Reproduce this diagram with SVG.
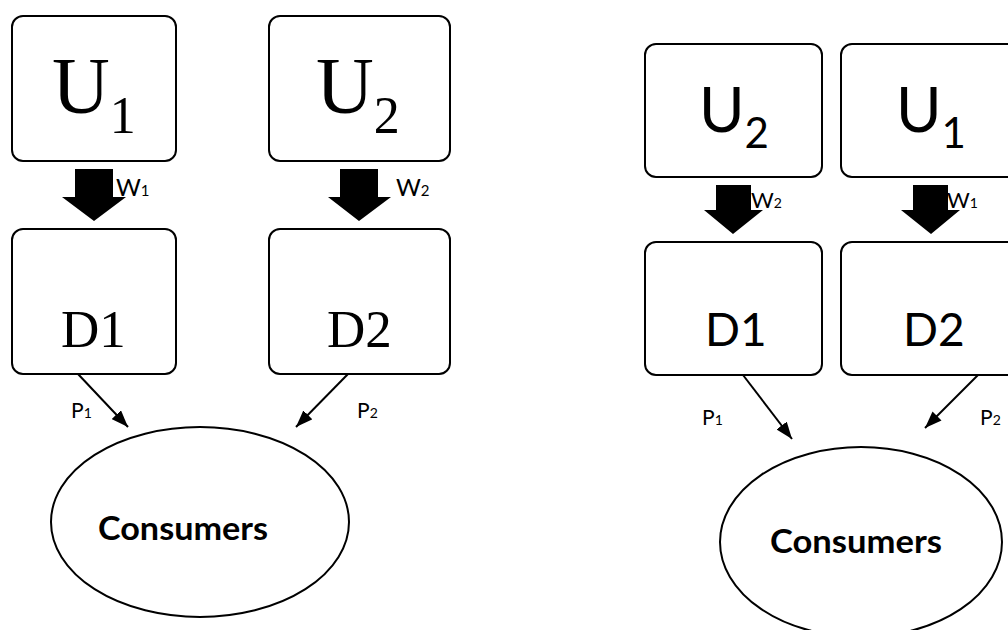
<svg xmlns="http://www.w3.org/2000/svg" width="1008" height="630" viewBox="0 0 1008 630">
<defs>
<style>
.box{fill:#fff;stroke:#000;stroke-width:2}
.ell{fill:#fff;stroke:#000;stroke-width:2}
.blk{fill:#000}
.ln{stroke:#000;stroke-width:2;fill:none;marker-end:url(#ah)}
.serif{font-family:"Liberation Serif","Times New Roman",serif;fill:#000}
.sans{font-family:Lato,"Liberation Sans",sans-serif;fill:#000}
.bold{font-weight:bold}
</style>
<marker id="ah" viewBox="0 0 16 12" refX="16" refY="6" markerWidth="17" markerHeight="13" markerUnits="userSpaceOnUse" orient="auto">
<path d="M0,0 L16,6 L0,12 Z" fill="#000"/>
</marker>
</defs>
<rect width="1008" height="630" fill="#fff"/>

<!-- Left panel -->
<g id="L_U1"><rect class="box" x="12" y="16" width="164" height="145" rx="11"/>
<text class="serif" x="52" y="113" font-size="80">U<tspan font-size="52" dy="20">1</tspan></text></g>
<g id="L_U2"><rect class="box" x="269" y="16" width="181" height="145" rx="11"/>
<text class="serif" x="316" y="113" font-size="80">U<tspan font-size="52" dy="20">2</tspan></text></g>
<g id="L_D1"><rect class="box" x="12" y="229" width="164" height="145" rx="11"/>
<text class="serif" x="61" y="347" font-size="53">D1</text></g>
<g id="L_D2"><rect class="box" x="269" y="229" width="181" height="145" rx="11"/>
<text class="serif" x="327" y="347" font-size="53">D2</text></g>
<g id="L_C"><ellipse class="ell" cx="200" cy="522" rx="149" ry="95"/>
<text class="sans bold" x="98" y="540" font-size="32" textLength="170" lengthAdjust="spacingAndGlyphs">Consumers</text></g>

<!-- Right panel -->
<g id="R_U2"><rect class="box" x="645" y="44" width="177" height="133" rx="11"/>
<text class="sans" x="699" y="132" font-size="62">U<tspan font-size="42" dy="16">2</tspan></text></g>
<g id="R_U1"><rect class="box" x="841" y="44" width="177" height="133" rx="11"/>
<text class="sans" x="896" y="132" font-size="62">U<tspan font-size="42" dy="16">1</tspan></text></g>
<g id="R_D1"><rect class="box" x="645" y="242" width="177" height="133" rx="11"/>
<text class="sans" x="705" y="346" font-size="46">D1</text></g>
<g id="R_D2"><rect class="box" x="841" y="242" width="177" height="133" rx="11"/>
<text class="sans" x="903" y="346" font-size="46">D2</text></g>
<g id="R_C"><ellipse class="ell" cx="861" cy="542" rx="141" ry="95"/>
<text class="sans bold" x="770" y="553" font-size="32" textLength="172" lengthAdjust="spacingAndGlyphs">Consumers</text></g>

<g id="connectors">
<polygon class="blk" points="75,169 113,169 113,197 126,197 94,221 62,197 75,197"/>
<polygon class="blk" points="340,169 378,169 378,197 391,197 359,221 328,197 340,197"/>
<polygon class="blk" points="716,185 751,185 751,210 763,210 733,234 704,210 716,210"/>
<polygon class="blk" points="913,185 948,185 948,210 960,210 931,234 901,210 913,210"/>
<line class="ln" x1="78" y1="374" x2="128" y2="427"/>
<line class="ln" x1="348" y1="374" x2="296" y2="427"/>
<line class="ln" x1="743" y1="375" x2="792" y2="439"/>
<line class="ln" x1="978" y1="375" x2="925" y2="428"/>
</g>

<g id="labels">
<text class="sans" x="116" y="196" font-size="24">W<tspan font-size="15">1</tspan></text>
<text class="sans" x="396" y="196" font-size="24">W<tspan font-size="15">2</tspan></text>
<text class="sans" x="751" y="208" font-size="22">W<tspan font-size="14">2</tspan></text>
<text class="sans" x="947" y="208" font-size="22">W<tspan font-size="14">1</tspan></text>
<text class="sans" x="71" y="418" font-size="21">P<tspan font-size="14">1</tspan></text>
<text class="sans" x="357" y="418" font-size="21">P<tspan font-size="14">2</tspan></text>
<text class="sans" x="702" y="425" font-size="21">P<tspan font-size="14">1</tspan></text>
<text class="sans" x="980" y="425" font-size="21">P<tspan font-size="14">2</tspan></text>
</g>
</svg>
